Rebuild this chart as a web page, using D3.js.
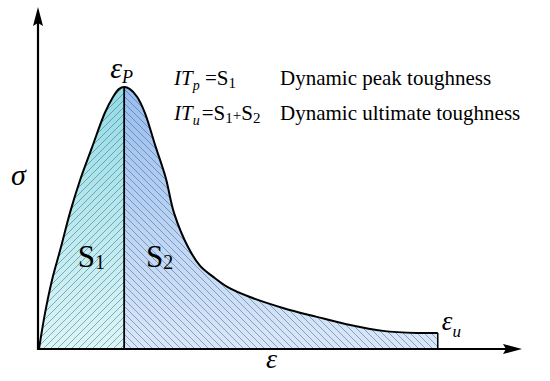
<!DOCTYPE html>
<html>
<head>
<meta charset="utf-8">
<script src="https://cdn.jsdelivr.net/npm/d3@7"></script>
</head>
<body style="margin:0">
<svg id="chart" width="550" height="381"></svg>
<script>
// strain / stress samples (arbitrary units, 0..100)
var strain = [0.2, 1.45, 2.9, 4.75, 6.6, 8.7, 11.2, 13.8, 15.5, 16.7, 17.8, 19.0, 20.5, 22.1, 24.2, 26.4, 28.1, 31.0, 33.5, 36.2, 39.2, 43.8, 50.6, 57.6, 64.5, 71.3, 78.3, 82.6];
var stress = [0, 10.5, 20.2, 29.8, 39.8, 49.4, 59.1, 69.0, 73.7, 76.0, 76.6, 76.0, 73.7, 69.0, 59.6, 50.0, 39.8, 29.8, 24.3, 21.1, 18.1, 15.2, 12.0, 9.4, 7.0, 5.3, 4.7, 4.7];
var peakIndex = 10;

var regionNames = ["S", "S"];
var regionSubs = ["1", "2"];
var descriptions = ["Dynamic peak toughness", "Dynamic ultimate toughness"];

var FONT = "Liberation Serif";
var STROKE = "#000";
var HATCH_COLOR = "rgba(60,90,105,0.55)";

var svg = d3.select("#chart");

var x = d3.scaleLinear().domain([0, 100]).range([38, 522]);
var y = d3.scaleLinear().domain([0, 100]).range([349, 7]);

var data = strain.map(function(s, i) { return { e: s, s: stress[i] }; });
var peak = data[peakIndex];
var last = data[data.length - 1];

var defs = svg.append("defs");

// vertical gradients for the two areas
var makeGrad = function(id, top, bottom) {
  var g = defs.append("linearGradient").attr("id", id)
    .attr("gradientUnits", "userSpaceOnUse")
    .attr("x1", 0).attr("y1", y(peak.s)).attr("x2", 0).attr("y2", y(0));
  g.append("stop").attr("offset", "0%").attr("stop-color", top);
  g.append("stop").attr("offset", "100%").attr("stop-color", bottom);
};
makeGrad("g1", "#93dbe6", "#dcf6f8");
makeGrad("g2", "#98bdf0", "#d9e7fa");

// hatching, "/" for S1 and "\" for S2
var makeHatch = function(id, d) {
  defs.append("pattern").attr("id", id)
    .attr("patternUnits", "userSpaceOnUse")
    .attr("width", 7).attr("height", 7)
    .append("path")
    .attr("d", d)
    .attr("stroke", HATCH_COLOR)
    .attr("stroke-width", 0.9)
    .attr("fill", "none");
};
makeHatch("h1", "M-1,1 l2,-2 M0,7 l7,-7 M6,8 l2,-2");
makeHatch("h2", "M-1,6 l2,2 M0,0 l7,7 M6,-1 l2,2");

// clip the area at the peak strain
defs.append("clipPath").attr("id", "c1").append("rect")
  .attr("x", 0).attr("y", 0).attr("width", x(peak.e)).attr("height", 381);
defs.append("clipPath").attr("id", "c2").append("rect")
  .attr("x", x(peak.e)).attr("y", 0).attr("width", 550).attr("height", 381);

var curve = d3.curveCatmullRom.alpha(0.5);
var area = d3.area().curve(curve)
  .x(function(d) { return x(d.e); })
  .y0(y(0))
  .y1(function(d) { return y(d.s); });
var line = d3.line().curve(curve)
  .x(function(d) { return x(d.e); })
  .y(function(d) { return y(d.s); });

["1", "2"].forEach(function(k) {
  svg.append("path").datum(data).attr("d", area)
    .attr("fill", "url(#g" + k + ")").attr("clip-path", "url(#c" + k + ")");
  svg.append("path").datum(data).attr("d", area)
    .attr("fill", "url(#h" + k + ")").attr("clip-path", "url(#c" + k + ")");
});

svg.append("path").datum(data).attr("d", line)
  .attr("fill", "none").attr("stroke", STROKE).attr("stroke-width", 2);

// peak divider and end line
svg.append("line")
  .attr("x1", x(peak.e)).attr("x2", x(peak.e))
  .attr("y1", y(peak.s)).attr("y2", y(0))
  .attr("stroke", STROKE).attr("stroke-width", 1.8);
svg.append("line")
  .attr("x1", x(last.e)).attr("x2", x(last.e))
  .attr("y1", y(last.s)).attr("y2", y(0))
  .attr("stroke", STROKE).attr("stroke-width", 1.5);

// axes with arrowheads
svg.append("line")
  .attr("x1", x(0)).attr("y1", y(0)).attr("x2", x(100) - 10).attr("y2", y(0))
  .attr("stroke", STROKE).attr("stroke-width", 2.2);
svg.append("line")
  .attr("x1", x(0)).attr("y1", y(0) + 1).attr("x2", x(0)).attr("y2", y(100) + 10)
  .attr("stroke", STROKE).attr("stroke-width", 2.2);
svg.append("path")
  .attr("d", "M" + x(100) + "," + y(0) + " l-19,-5 l3,5 l-3,5 z")
  .attr("fill", STROKE);
svg.append("path")
  .attr("d", "M" + x(0) + "," + y(100) + " l-5,19 l5,-3 l5,3 z")
  .attr("fill", STROKE);

var addText = function(px, py, size) {
  return svg.append("text").attr("x", px).attr("y", py)
    .attr("font-family", FONT)
    .style("font-family", "'" + FONT + "'").style("font-size", size + "px");
};
var sub = function(t, str, dy, size, italic) {
  var s = t.append("tspan").attr("dy", dy).style("font-size", size + "px").text(str);
  if (italic) s.style("font-style", "italic");
  return s;
};

// axis symbols
addText(11, 185, 30).style("font-style", "italic").text("σ");
addText(266, 368, 28).style("font-style", "italic").text("ε");

var epsP = addText(x(peak.e) - 14, y(peak.s) - 9, 30).style("font-style", "italic");
epsP.append("tspan").text("ε");
sub(epsP, "P", 5, 18, true);

var epsU = addText(x(last.e) + 4, y(last.s) - 3, 27).style("font-style", "italic");
epsU.append("tspan").text("ε");
sub(epsU, "u", 7, 17, true);

// region labels
[x(8.2), x(22.3)].forEach(function(px, i) {
  var t = addText(px, 267, 31);
  t.append("tspan").text(regionNames[i]);
  sub(t, regionSubs[i], 2, 20, false);
});

// toughness definitions
var def1 = addText(174, 85, 21);
def1.append("tspan").style("font-style", "italic").text("IT");
sub(def1, "p", 5, 14, true);
sub(def1, " =S", -5, 21, false);
sub(def1, "1", 3, 15, false);

var def2 = addText(174, 120, 21);
def2.append("tspan").style("font-style", "italic").text("IT");
sub(def2, "u", 5, 14, true);
sub(def2, "=S", -5, 21, false).attr("dx", 2);
sub(def2, "1", 3, 15, false);
sub(def2, "+", -3, 15, false);
sub(def2, "S", 0, 21, false);
sub(def2, "2", 3, 15, false);

descriptions.forEach(function(d, i) {
  addText(280, 85 + i * 35, 21).text(d);
});
</script>
</body>
</html>
